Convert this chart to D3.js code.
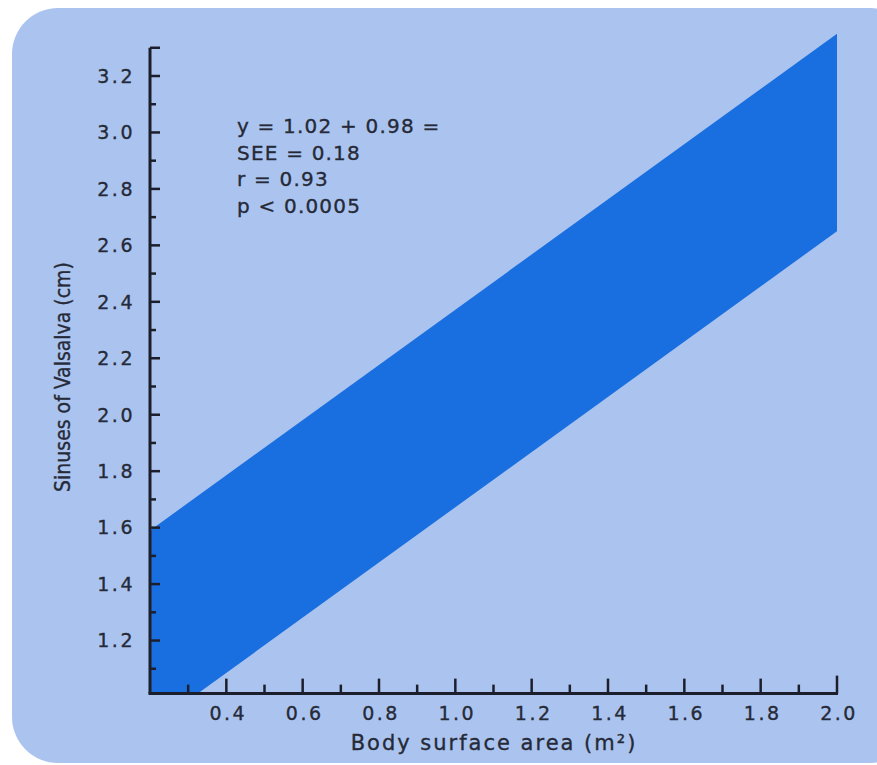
<!DOCTYPE html>
<html>
<head>
<meta charset="utf-8">
<script src="https://cdn.jsdelivr.net/npm/d3@7"></script>
<style>
  html, body { margin: 0; padding: 0; background: #ffffff; }
  svg { display: block; }
  text { font-family: "DejaVu Sans", Verdana, sans-serif; fill: #262a38; stroke: #262a38; stroke-width: 0.35; }
</style>
</head>
<body>
<svg id="chart" width="877" height="765"></svg>
<script>
// Regression band: sinuses of Valsalva diameter vs body surface area
const bandX = [0.2, 2.0];          // body surface area (m²)
const bandUpper = [1.59, 3.35];    // upper limit (cm)
const bandLower = [0.89, 2.65];    // lower limit (cm)

const xMajorTicks = [0.4, 0.6, 0.8, 1.0, 1.2, 1.4, 1.6, 1.8, 2.0];
const xMinorTicks = [0.3, 0.5, 0.7, 0.9, 1.1, 1.3, 1.5, 1.7, 1.9];
const yMajorTicks = [1.2, 1.4, 1.6, 1.8, 2.0, 2.2, 2.4, 2.6, 2.8, 3.0, 3.2];
const yMinorTicks = [1.1, 1.3, 1.5, 1.7, 1.9, 2.1, 2.3, 2.5, 2.7, 2.9, 3.1, 3.3];

const statsLines = ["y = 1.02 + 0.98 =", "SEE = 0.18", "r = 0.93", "p < 0.0005"];

const svg = d3.select("#chart");

// Rounded light-blue panel
svg.append("rect")
  .attr("x", 12).attr("y", 8)
  .attr("width", 905).attr("height", 755)
  .attr("rx", 46).attr("ry", 46)
  .attr("fill", "#abc4ef");

const x = d3.scaleLinear().domain([0.2, 2.0]).range([150, 837]);
const y = d3.scaleLinear().domain([1.0, 3.2]).range([697, 76]);
const yBase = 1.012;   // height where the x axis is drawn
const yTop = 3.3;      // top of the y axis

// Clip the band to the area above the x axis
svg.append("clipPath").attr("id", "plotClip")
  .append("rect")
  .attr("x", x(0.2)).attr("y", 0)
  .attr("width", x(2.0) - x(0.2)).attr("height", y(yBase));

const bandData = bandX.map((v, i) => ({ x: v, lo: bandLower[i], hi: bandUpper[i] }));
const area = d3.area()
  .x(d => x(d.x))
  .y0(d => y(d.lo))
  .y1(d => y(d.hi));

svg.append("path")
  .datum(bandData)
  .attr("clip-path", "url(#plotClip)")
  .attr("d", area)
  .attr("fill", "#1a6fe0");

const axisColor = "#1c1f2b";

// Y axis: ticks point inward (to the right)
const yAxisG = svg.append("g");
yAxisG.append("line")
  .attr("x1", x(0.2)).attr("x2", x(0.2))
  .attr("y1", y(yTop)).attr("y2", y(yBase))
  .attr("stroke", axisColor).attr("stroke-width", 3);
yAxisG.selectAll("line.maj").data(yMajorTicks).join("line")
  .attr("class", "maj")
  .attr("x1", x(0.2)).attr("x2", x(0.2) + 10)
  .attr("y1", d => y(d)).attr("y2", d => y(d))
  .attr("stroke", axisColor).attr("stroke-width", 2.5);
yAxisG.selectAll("line.min").data(yMinorTicks).join("line")
  .attr("class", "min")
  .attr("x1", x(0.2)).attr("x2", d => x(0.2) + (d === yTop ? 10 : 6))
  .attr("y1", d => y(d)).attr("y2", d => y(d))
  .attr("stroke", axisColor).attr("stroke-width", 2.5);
yAxisG.selectAll("text").data(yMajorTicks).join("text")
  .attr("x", 135).attr("y", d => y(d))
  .attr("dy", "0.36em")
  .attr("text-anchor", "end")
  .attr("font-size", 19)
  .attr("letter-spacing", 2.5)
  .text(d => d.toFixed(1));

// X axis: ticks point inward (upward)
const xAxisG = svg.append("g");
xAxisG.append("line")
  .attr("x1", x(0.2) - 1.5).attr("x2", x(2.0) + 1)
  .attr("y1", y(yBase)).attr("y2", y(yBase))
  .attr("stroke", axisColor).attr("stroke-width", 3);
xAxisG.selectAll("line.maj").data(xMajorTicks).join("line")
  .attr("class", "maj")
  .attr("x1", d => x(d)).attr("x2", d => x(d))
  .attr("y1", y(yBase)).attr("y2", d => y(yBase) - (d === 2.0 ? 18 : 15))
  .attr("stroke", axisColor).attr("stroke-width", 2.5);
xAxisG.selectAll("line.min").data(xMinorTicks).join("line")
  .attr("class", "min")
  .attr("x1", d => x(d)).attr("x2", d => x(d))
  .attr("y1", y(yBase)).attr("y2", y(yBase) - 9)
  .attr("stroke", axisColor).attr("stroke-width", 2.5);
xAxisG.selectAll("text").data(xMajorTicks).join("text")
  .attr("x", d => x(d) + 2).attr("y", 720)
  .attr("text-anchor", "middle")
  .attr("font-size", 19)
  .attr("letter-spacing", 2.5)
  .text(d => d.toFixed(1));

// Axis titles
svg.append("text")
  .attr("x", 494).attr("y", 750)
  .attr("text-anchor", "middle")
  .attr("font-size", 21)
  .attr("letter-spacing", 2)
  .text("Body surface area (m²)");

svg.append("text")
  .attr("transform", "translate(70,377) rotate(-90)")
  .attr("text-anchor", "middle")
  .attr("font-size", 21)
  .attr("font-stretch", "condensed")
  .attr("font-family", "'DejaVu Sans Condensed', 'DejaVu Sans', sans-serif")
  .text("Sinuses of Valsalva (cm)");

// Regression statistics
svg.append("g").selectAll("text").data(statsLines).join("text")
  .attr("x", 237)
  .attr("y", (d, i) => 133 + i * 26.5)
  .attr("font-size", 20)
  .attr("letter-spacing", 1.2)
  .text(d => d);
</script>
</body>
</html>
